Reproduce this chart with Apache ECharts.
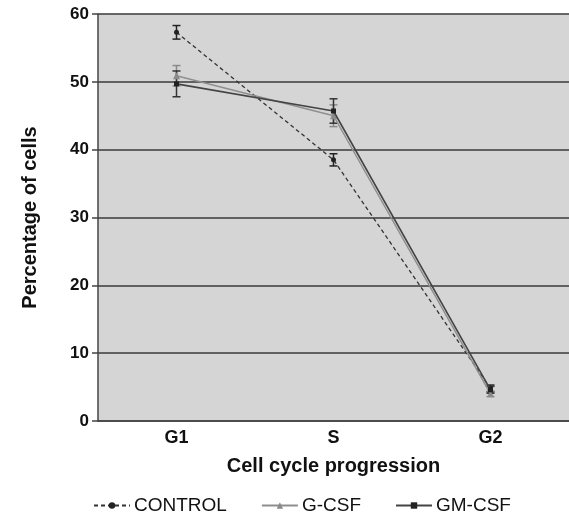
<!DOCTYPE html>
<html>
<head>
<meta charset="utf-8">
<script src="https://cdn.jsdelivr.net/npm/echarts@6/dist/echarts.min.js"></script>
<style>
html,body{margin:0;padding:0;background:#fff;}
#chart{width:569px;height:526px;}
</style>
</head>
<body>
<div id="chart"></div>
<script>
var phases = ['G1', 'S', 'G2'];
var controlVals = [57.3, 38.5, 4.8];
var controlErr = [1.0, 0.9, 0.5];
var gcsfVals = [50.9, 45.0, 4.0];
var gcsfErr = [1.5, 1.6, 0.4];
var gmcsfVals = [49.7, 45.7, 4.6];
var gmcsfErr = [1.9, 1.8, 0.5];

function errorSeries(name, vals, errs, color) {
    var data = [];
    for (var i = 0; i < vals.length; i++) {
        data.push([i, vals[i] - errs[i], vals[i] + errs[i]]);
    }
    return {
        name: name + ' err',
        type: 'custom',
        z: 3,
        silent: true,
        data: data,
        renderItem: function (params, api) {
            var lo = api.coord([api.value(0), api.value(1)]);
            var hi = api.coord([api.value(0), api.value(2)]);
            var w = 4;
            var st = {stroke: color, lineWidth: 1.5};
            return {
                type: 'group',
                children: [
                    {type: 'line', shape: {x1: lo[0], y1: lo[1], x2: hi[0], y2: hi[1]}, style: st},
                    {type: 'line', shape: {x1: lo[0] - w, y1: lo[1], x2: lo[0] + w, y2: lo[1]}, style: st},
                    {type: 'line', shape: {x1: hi[0] - w, y1: hi[1], x2: hi[0] + w, y2: hi[1]}, style: st}
                ]
            };
        }
    };
}

var chart = echarts.init(document.getElementById('chart'));
var option = {
    backgroundColor: '#fff',
    animation: false,
    textStyle: {fontFamily: 'Liberation Sans, Arial, sans-serif'},
    grid: {left: 98, right: -2, top: 14, bottom: 105, show: true, backgroundColor: '#d5d5d5', borderWidth: 0},
    legend: {
        bottom: 6,
        left: 88,
        itemGap: 34,
        itemWidth: 36,
        itemHeight: 8,
        textStyle: {fontSize: 19, color: '#111', fontFamily: 'Liberation Sans, Arial, sans-serif', padding: [0, 0, 0, -1]},
        data: ['CONTROL', 'G-CSF', 'GM-CSF']
    },
    xAxis: {
        type: 'category',
        data: phases,
        name: 'Cell cycle progression',
        nameLocation: 'middle',
        nameGap: 35,
        nameTextStyle: {fontSize: 20, fontWeight: 'bold', color: '#111'},
        axisLine: {lineStyle: {color: '#444', width: 1.5}},
        axisTick: {alignWithLabel: true, length: 6, lineStyle: {color: '#444', width: 1.5}},
        axisLabel: {fontSize: 18, fontWeight: 'bold', color: '#111', margin: 8}
    },
    yAxis: {
        type: 'value',
        min: 0,
        max: 60,
        interval: 10,
        name: 'Percentage of cells',
        nameLocation: 'middle',
        nameGap: 58,
        nameTextStyle: {fontSize: 20, fontWeight: 'bold', color: '#111'},
        axisLine: {show: true, lineStyle: {color: '#444', width: 1.5}},
        axisTick: {show: true, length: 6, lineStyle: {color: '#444', width: 1.5}},
        axisLabel: {fontSize: 17, fontWeight: 'bold', color: '#111', margin: 9},
        splitLine: {lineStyle: {color: '#3a3a3a', width: 1.5}}
    },
    series: [
        errorSeries('CONTROL', controlVals, controlErr, '#222'),
        errorSeries('G-CSF', gcsfVals, gcsfErr, '#8a8a8a'),
        errorSeries('GM-CSF', gmcsfVals, gmcsfErr, '#333'),
        {
            name: 'CONTROL',
            type: 'line',
            data: controlVals,
            z: 4,
            symbol: 'circle',
            symbolSize: 5,
            itemStyle: {color: '#222'},
            lineStyle: {color: '#333', width: 1.3, type: [4, 3]}
        },
        {
            name: 'G-CSF',
            type: 'line',
            data: gcsfVals,
            z: 4,
            symbol: 'triangle',
            symbolSize: 7,
            itemStyle: {color: '#8a8a8a'},
            lineStyle: {color: '#8f8f8f', width: 1.5}
        },
        {
            name: 'GM-CSF',
            type: 'line',
            data: gmcsfVals,
            z: 5,
            symbol: 'rect',
            symbolSize: 5,
            itemStyle: {color: '#222'},
            lineStyle: {color: '#444', width: 1.6}
        }
    ]
};
chart.setOption(option);
</script>
</body>
</html>
